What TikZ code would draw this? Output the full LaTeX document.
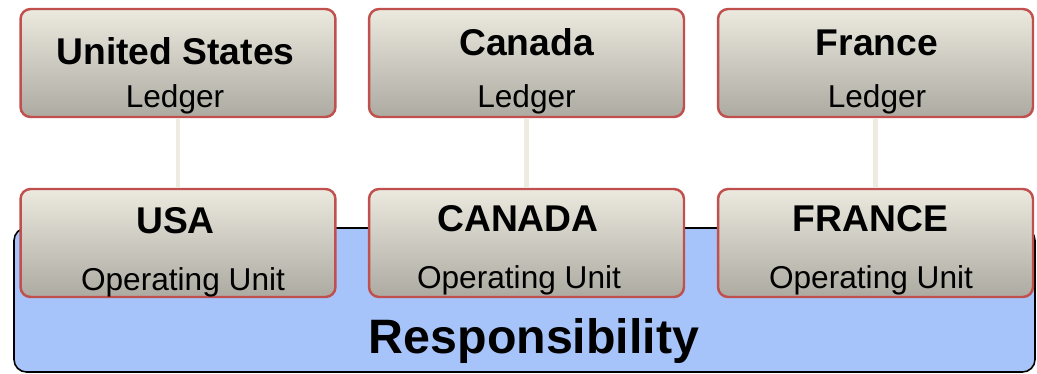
\documentclass[tikz,border=0pt]{standalone}
\usepackage{fontspec}
\setmainfont{Liberation Sans}
\usetikzlibrary{positioning}
\definecolor{box-red}{RGB}{192, 80, 77}
\definecolor{box-top}{RGB}{236, 233, 223}
\definecolor{box-bottom}{RGB}{172, 170, 161}
\definecolor{link-beige}{RGB}{238, 235, 225}
\definecolor{resp-blue}{RGB}{167, 196, 250}

\begin{document}
\begin{tikzpicture}[x=0.02cm, y=-0.02cm,
    unit/.style={draw=box-red, line width=1.4pt, rounded corners=0.2cm,
      top color=box-top, bottom color=box-bottom,
      minimum width=6.3cm, minimum height=2.16cm, inner sep=0pt},
    title/.style={anchor=base, font=\fontsize{21.2}{24}\selectfont\bfseries},
    sub/.style={anchor=base, font=\fontsize{18}{21}\selectfont},
    link/.style={draw=link-beige, line width=2.8pt}]
\useasboundingbox (0,0) rectangle (1037,373);

\filldraw[fill=resp-blue, draw=black, line width=0.9pt, rounded corners=0.25cm] (14,228) rectangle (1035,372);
\node[anchor=base, font=\fontsize{27.5}{30}\selectfont\bfseries] (resp) at (534,353) {Responsibility};

% ledgers
\node[unit] (us) at (178,63) {};
\node[unit] (ca) at (526.5,63) {};
\node[unit] (fr) at (875.5,63) {};
\node[title] (us-name) at (175.5,64) {United States};
\node[sub] (us-led) at (175,107) {Ledger};
\node[title] (ca-name) at (526.5,55) {Canada};
\node[sub] (ca-led) at (526.5,107) {Ledger};
\node[title] (fr-name) at (877,55) {France};
\node[sub] (fr-led) at (877,107) {Ledger};

% operating units
\node[unit] (usa) at (178,243) {};
\node[unit] (can) at (526.5,243) {};
\node[unit] (fra) at (875.5,243) {};
\node[title] (usa-name) at (175.5,233) {USA};
\node[sub] (usa-ou) at (183,290) {Operating Unit};
\node[title] (can-name) at (518,231) {CANADA};
\node[sub] (can-ou) at (519,288) {Operating Unit};
\node[title] (fra-name) at (870.5,231) {FRANCE};
\node[sub] (fra-ou) at (871,288) {Operating Unit};

\draw[link] (us) -- (usa);
\draw[link] (ca) -- (can);
\draw[link] (fr) -- (fra);

\end{tikzpicture}
\end{document}
